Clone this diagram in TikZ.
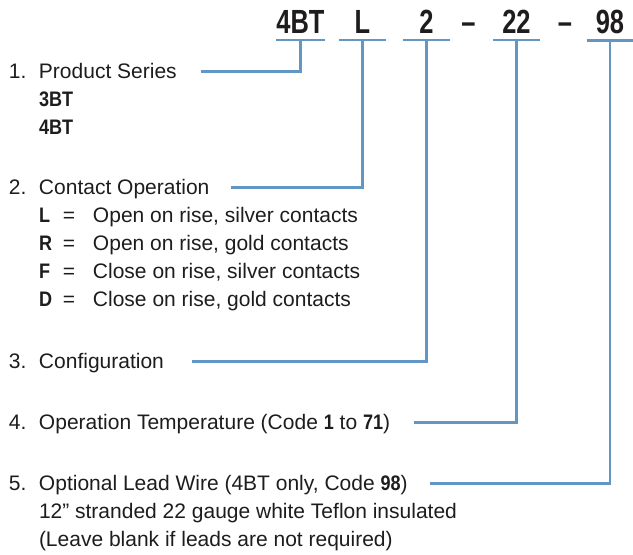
\documentclass[tikz,border=0pt]{standalone}
\usepackage{fontspec}
\setmainfont{Liberation Sans}
\newfontfamily\listcond[FakeStretch=0.86]{Liberation Sans}
\newfontfamily\codecond[FakeStretch=0.76]{Liberation Sans}
\definecolor{linkblue}{RGB}{98,150,196}
\definecolor{ink}{RGB}{30,28,29}
\newcommand{\bc}[1]{{\listcond\bfseries #1}}

\begin{document}
\begin{tikzpicture}[x=1pt, y=1pt]
\tikzset{ inner sep=0pt, outer sep=0pt,
  item/.style={anchor=base west, text=ink, font=\fontsize{21}{28}\selectfont},
  code/.style={anchor=base, minimum width=47pt, inner ysep=6.7pt, text=ink,
               font=\codecond\bfseries\fontsize{33.5}{40}\selectfont},
  uline/.style={linkblue, line width=2.7pt},
  link/.style={linkblue, line width=2.7pt},
}
\useasboundingbox (0,0) rectangle (633,555);

% part number
\node [code] (C1) at (300.5,521.7) {4BT};
\node [code] (C2) at (362.5,521.7) {L};
\node [code] (C3) at (426.5,521.7) {2};
\node [code, minimum width=0pt] (D1) at (468.5,521.7) {–};
\node [code] (C4) at (516.5,521.7) {22};
\node [code, minimum width=0pt] (D2) at (565,521.7) {–};
\node [code] (C5) at (610,521.7) {98};

\draw [uline] (C1.south west) -- (C1.south east);
\draw [uline] (C2.south west) -- (C2.south east);
\draw [uline] (C3.south west) -- (C3.south east);
\draw [uline] (C4.south west) -- (C4.south east);
\draw [uline] (C5.south west) -- (C5.south east);

% items
\node [item] (I1) at (9,476) {\makebox[30pt][l]{1.}Product Series};
\node [item] (S1) at (39,448) {\bc{3BT}};
\node [item] (S2) at (39,420) {\bc{4BT}};

\node [item] (I2) at (9,360) {\makebox[30pt][l]{2.}Contact Operation};
\node [item] (OL) at (39,332) {\makebox[24pt][l]{\bc{L}}\makebox[30pt][l]{=}Open on rise, silver contacts};
\node [item] (OR) at (39,304) {\makebox[24pt][l]{\bc{R}}\makebox[30pt][l]{=}Open on rise, gold contacts};
\node [item] (OF) at (39,276) {\makebox[24pt][l]{\bc{F}}\makebox[30pt][l]{=}Close on rise, silver contacts};
\node [item] (OD) at (39,248) {\makebox[24pt][l]{\bc{D}}\makebox[30pt][l]{=}Close on rise, gold contacts};

\node [item] (I3) at (9,186) {\makebox[30pt][l]{3.}Configuration};

\node [item] (I4) at (9,125) {\makebox[30pt][l]{4.}Operation Temperature (Code \bc{1} to \bc{71})};

\node [item] (I5) at (9,64) {\makebox[30pt][l]{5.}Optional Lead Wire (4BT only, Code \bc{98})};
\node [item] (W1) at (39,36) {12” stranded 22 gauge white Teflon insulated};
\node [item] (W2) at (39,8) {(Leave blank if leads are not required)};

% connectors
\coordinate (E1) at ([shift={(24,7.5)}]I1.base east);
\coordinate (E2) at ([shift={(22,7.5)}]I2.base east);
\coordinate (E3) at ([shift={(28,7.5)}]I3.base east);
\coordinate (E4) at ([shift={(24,7.5)}]I4.base east);
\coordinate (E5) at ([shift={(22,7.5)}]I5.base east);

\draw [link] (E1) -| (C1.south);
\draw [link] (E2) -| (C2.south);
\draw [link] (E3) -| (C3.south);
\draw [link] (E4) -| (C4.south);
\draw [link] (E5) -| (C5.south);

\end{tikzpicture}
\end{document}
